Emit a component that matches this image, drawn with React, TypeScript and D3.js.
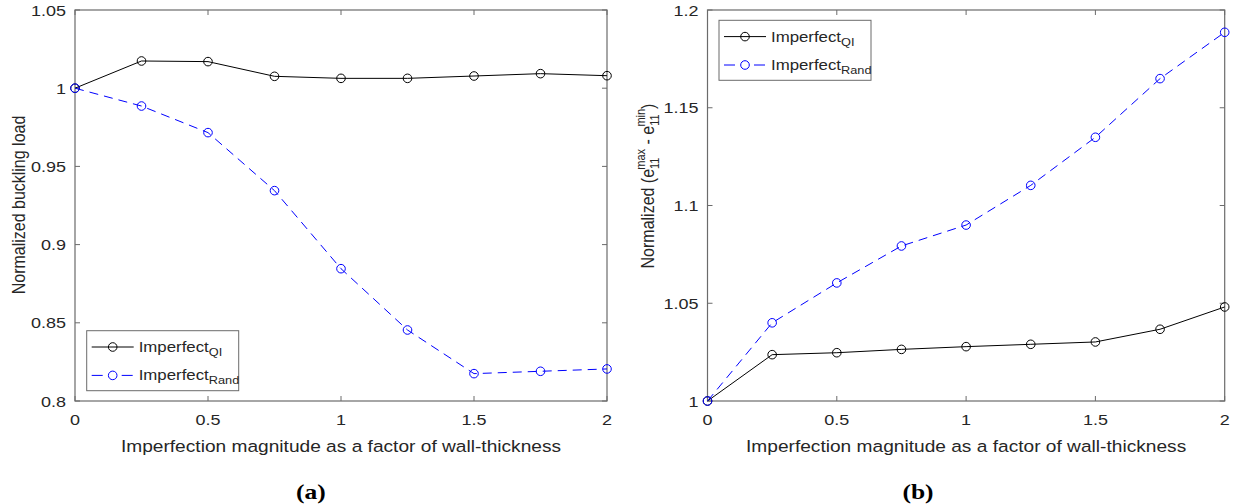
import React from "react";
import * as d3 from "d3";

// x values shared by both panels (imperfection magnitude / wall thickness)
const magnitudes = [0, 0.25, 0.5, 0.75, 1, 1.25, 1.5, 1.75, 2];

// panel (a): normalized buckling load
const bucklingQI = [1.0, 1.0174, 1.017, 1.0076, 1.0063, 1.0063, 1.0078, 1.0093, 1.008];
const bucklingRand = [1.0, 0.9886, 0.9716, 0.9345, 0.8846, 0.8454, 0.8175, 0.819, 0.8205];

// panel (b): normalized strain range
const strainQI = [1.0, 1.0237, 1.0247, 1.0264, 1.0278, 1.029, 1.0302, 1.0367, 1.0481];
const strainRand = [1.0, 1.04, 1.0604, 1.0793, 1.09, 1.1103, 1.1349, 1.1649, 1.1886];

const xTicks = [0, 0.5, 1, 1.5, 2];
const yTicksA = [0.8, 0.85, 0.9, 0.95, 1, 1.05];
const yTicksB = [1, 1.05, 1.1, 1.15, 1.2];

const xLabel = "Imperfection magnitude as a factor of wall-thickness";

const SX = 1.16; // the reference is stretched a bit horizontally
const AXIS = "#6b6b6b";
const TXT = "#262626";
const FONT = "'Liberation Sans', Arial, sans-serif";
const fmt = d3.format("~g");

const Legend = ({ x0, y0 }) => {
  const rows = [
    { sub: "QI", color: "#000", dash: null },
    { sub: "Rand", color: "#0000ff", dash: "11,19" },
  ];
  return (
    <g>
      <rect x={x0} y={y0} width={152} height={60} fill="#fff" stroke={AXIS} strokeWidth={1} />
      {rows.map((r, i) => {
        const ry = y0 + 16.3 + i * 28.4;
        return (
          <g key={r.sub}>
            <line x1={x0 + 5} x2={x0 + 47} y1={ry} y2={ry} stroke={r.color} strokeWidth={1}
              strokeDasharray={r.dash || undefined} />
            <circle cx={x0 + 26} cy={ry} r={4.3} fill="none" stroke={r.color} strokeWidth={1} />
            <text transform={`translate(${x0 + 52},${ry + 5}) scale(${SX},1)`} fontSize={14.5}
              fontFamily={FONT} fill={TXT}>
              Imperfect
              <tspan fontSize={11} dy={4}>{r.sub}</tspan>
            </text>
          </g>
        );
      })}
    </g>
  );
};

const Panel = ({ x, y, yTicks, qi, rand, legendPos, yLabel, tag, tagX }) => {
  const [x0, x1] = x.range();
  const [y0, y1] = y.range(); // y0 bottom, y1 top
  const line = (vals) =>
    d3.line<number>()
      .x((_, i) => x(magnitudes[i]))
      .y((d) => y(d))(vals);
  const series = [
    { vals: qi, color: "#000", dash: null },
    { vals: rand, color: "#0000ff", dash: "9,6" },
  ];
  return (
    <g>
      {/* box */}
      <rect x={x0} y={y1} width={x1 - x0} height={y0 - y1} fill="none" stroke={AXIS} strokeWidth={1.2} />
      {/* ticks */}
      {xTicks.map((t) => (
        <g key={"x" + t}>
          <line x1={x(t)} x2={x(t)} y1={y0} y2={y0 - 5} stroke={AXIS} />
          <line x1={x(t)} x2={x(t)} y1={y1} y2={y1 + 5} stroke={AXIS} />
          <text transform={`translate(${x(t)},${y0 + 24}) scale(${SX},1)`} textAnchor="middle"
            fontSize={15.5} fontFamily={FONT} fill={TXT}>{fmt(t)}</text>
        </g>
      ))}
      {yTicks.map((t) => (
        <g key={"y" + t}>
          <line x1={x0} x2={x0 + 5} y1={y(t)} y2={y(t)} stroke={AXIS} />
          <line x1={x1} x2={x1 - 5} y1={y(t)} y2={y(t)} stroke={AXIS} />
          <text transform={`translate(${x0 - 9},${y(t) + 5.5}) scale(${SX},1)`} textAnchor="end"
            fontSize={15.5} fontFamily={FONT} fill={TXT}>{fmt(t)}</text>
        </g>
      ))}
      {/* data */}
      {series.map((s, si) => (
        <g key={si}>
          <path d={line(s.vals)} fill="none" stroke={s.color} strokeWidth={1}
            strokeDasharray={s.dash || undefined} />
          {s.vals.map((v, i) => (
            <circle key={i} cx={x(magnitudes[i])} cy={y(v)} r={4.3} fill="none" stroke={s.color} strokeWidth={1} />
          ))}
        </g>
      ))}
      <Legend x0={legendPos[0]} y0={legendPos[1]} />
      {/* x label */}
      <text transform={`translate(${(x0 + x1) / 2},${y0 + 51}) scale(${SX},1)`} textAnchor="middle"
        fontSize={16.5} fontFamily={FONT} fill={TXT}>{xLabel}</text>
      {yLabel}
      <text transform={`translate(${tagX},${y0 + 98}) scale(${SX},1)`} textAnchor="middle"
        fontSize={22} fontWeight="bold" fontFamily="'Liberation Serif', 'Times New Roman', serif"
        fill="#000">{tag}</text>
    </g>
  );
};

export default function App() {
  const xA = d3.scaleLinear().domain([0, 2]).range([75, 607]);
  const yA = d3.scaleLinear().domain([0.8, 1.05]).range([401, 10]);
  const xB = d3.scaleLinear().domain([0, 2]).range([707.5, 1224.7]);
  const yB = d3.scaleLinear().domain([1, 1.2]).range([401, 10]);

  const labelA = (
    <text transform={`translate(25,205) scale(${SX},1) rotate(-90)`} textAnchor="middle"
      fontSize={16} fontFamily={FONT} fill={TXT}>Normalized buckling load</text>
  );
  const labelB = (
    <text transform={`translate(654,186) scale(${SX},1) rotate(-90)`} textAnchor="middle"
      fontSize={16} fontFamily={FONT} fill={TXT}>
      Normalized (e
      <tspan fontSize={11} dy={4}>11</tspan>
      <tspan fontSize={11} dx={-12.2} dy={-12}>max</tspan>
      <tspan dy={8}> - e</tspan>
      <tspan fontSize={11} dy={4}>11</tspan>
      <tspan fontSize={11} dx={-12.2} dy={-12}>min</tspan>
      <tspan dy={8}>)</tspan>
    </text>
  );

  return (
    <svg width={1233} height={504} style={{ position: "absolute", left: 0, top: 0, background: "#fff" }}>
      <Panel x={xA} y={yA} yTicks={yTicksA} qi={bucklingQI} rand={bucklingRand}
        legendPos={[86.7, 330.7]} yLabel={labelA} tag="(a)" tagX={311} />
      <Panel x={xB} y={yB} yTicks={yTicksB} qi={strainQI} rand={strainRand}
        legendPos={[719, 20.3]} yLabel={labelB} tag="(b)" tagX={918} />
    </svg>
  );
}
